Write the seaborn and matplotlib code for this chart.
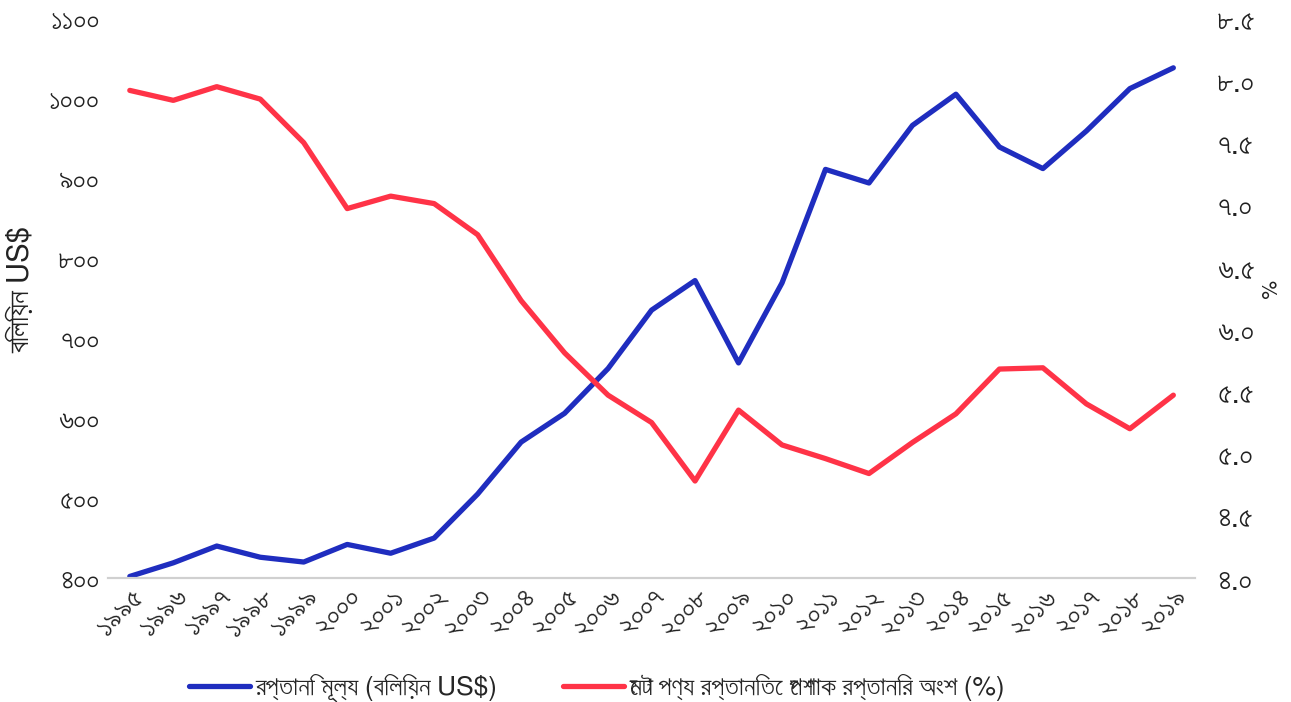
import matplotlib
matplotlib.use("Agg")
import matplotlib.pyplot as plt
from matplotlib import font_manager
from matplotlib.ft2font import FT2Font
import seaborn as sns
import pandas as pd
from matplotlib.ticker import FixedLocator, FuncFormatter

sns.set_theme(style="white")

# look for installed families that have Bengali glyphs; prefer a proportional sans
candidates = []
for fe in font_manager.fontManager.ttflist:
    try:
        cm = FT2Font(fe.fname).get_charmap()
        if 0x0985 in cm and 0x09E6 in cm:
            candidates.append(fe.name)
    except Exception:
        pass


def rank(name):
    n = name.lower()
    score = 0
    if "mono" in n or "code" in n:
        score += 10
    if "sans" in n:
        score -= 3
    if "serif" in n and "sans" not in n:
        score += 2
    return score


candidates = sorted(set(candidates), key=rank)
families = ['Noto Sans', 'DejaVu Sans']
if candidates:
    families = [candidates[0]] + families
plt.rcParams['font.family'] = families

years = ["১৯৯৫", "১৯৯৬", "১৯৯৭", "১৯৯৮", "১৯৯৯", "২০০০", "২০০১", "২০০২", "২০০৩",
         "২০০৪", "২০০৫", "২০০৬", "২০০৭", "২০০৮", "২০০৯", "২০১০", "২০১১", "২০১২",
         "২০১৩", "২০১৪", "২০১৫", "২০১৬", "২০১৭", "২০১৮", "২০১৯"]
export_value = [402, 419, 440, 426, 420, 442, 431, 450, 505, 570, 606, 662, 735, 772,
                669, 769, 911, 894, 966, 1005, 939, 912, 959, 1012, 1038]
apparel_share = [7.92, 7.84, 7.95, 7.85, 7.50, 6.97, 7.07, 7.01, 6.76, 6.23, 5.81, 5.47,
                 5.25, 4.78, 5.35, 5.07, 4.96, 4.84, 5.09, 5.32, 5.68, 5.69, 5.40, 5.20, 5.47]
left_ticks = [400, 500, 600, 700, 800, 900, 1000, 1100]
right_ticks = [4.0, 4.5, 5.0, 5.5, 6.0, 6.5, 7.0, 7.5, 8.0, 8.5]
label_value = "রপ্তানি মূল্য (বিলিয়ন US$)"
label_share = "মোট পণ্য রপ্তানিতে পোশাক রপ্তানির অংশ (%)"
left_axis_label = "বিলিয়ন US$"
right_axis_label = "%"

BN = str.maketrans("0123456789", "০১২৩৪৫৬৭৮৯")

df = pd.DataFrame({"pos": range(len(years)), "value": export_value, "share": apparel_share})

fig = plt.figure(figsize=(12.91, 7.02), dpi=100)
ax = fig.add_axes([0.0837, 0.1766, 0.842, 0.7974])
ax2 = ax.twinx()

blue = "#1f2dbf"
red = "#ff3347"
sns.lineplot(data=df, x="pos", y="value", ax=ax, color=blue, linewidth=3.8, label=label_value, legend=False)
sns.lineplot(data=df, x="pos", y="share", ax=ax2, color=red, linewidth=3.8, label=label_share, legend=False)

ax.set_xlim(-0.5, len(years) - 0.5)
ax.set_ylim(400, 1100)
ax2.set_ylim(4.0, 8.5)

ax.xaxis.set_major_locator(FixedLocator(range(len(years))))
ax.set_xticklabels(years, rotation=45, ha="right", rotation_mode="anchor", fontsize=21, color="#222222")
ax.yaxis.set_major_locator(FixedLocator(left_ticks))
ax.yaxis.set_major_formatter(FuncFormatter(lambda v, p: f"{int(v)}".translate(BN)))
ax2.yaxis.set_major_locator(FixedLocator(right_ticks))
ax2.yaxis.set_major_formatter(FuncFormatter(lambda v, p: f"{v:.1f}".translate(BN)))
ax.tick_params(axis="y", labelsize=21, colors="#222222", length=0, pad=6)
ax2.tick_params(axis="y", labelsize=22, colors="#222222", length=0, pad=16)
ax.tick_params(axis="x", length=0, pad=3)

ax.set_xlabel("")
ax.set_ylabel(left_axis_label, fontsize=21, color="#222222", va="center", ha="center")
ax.yaxis.set_label_coords(-0.080, 0.515)
ax2.set_ylabel(right_axis_label, fontsize=15, color="#222222", rotation=270, va="center", ha="center")
ax2.yaxis.set_label_coords(1.0655, 0.515)

for a in (ax, ax2):
    for s in ("top", "left", "right"):
        a.spines[s].set_visible(False)
    a.spines["bottom"].set_color("#d0d0d0")
    a.spines["bottom"].set_linewidth(1.5)
    a.grid(False)

h1, l1 = ax.get_legend_handles_labels()
h2, l2 = ax2.get_legend_handles_labels()
fig.legend(h1 + h2, l1 + l2, loc="center", bbox_to_anchor=(0.4625, 0.02), ncol=2,
           frameon=False, fontsize=19, handlelength=2.3, columnspacing=2.5, handletextpad=0.2)

fig.savefig("out.png", dpi=100)
